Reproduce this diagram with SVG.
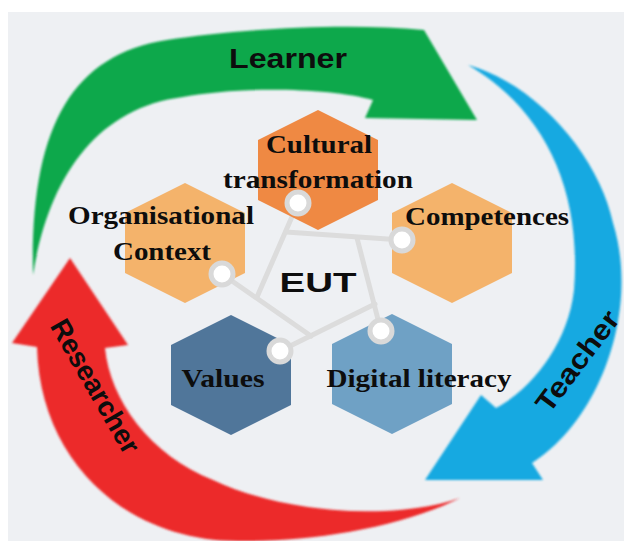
<svg xmlns="http://www.w3.org/2000/svg" width="624" height="541" viewBox="0 0 624 541">
  <defs>
    <filter id="soft" x="-5%" y="-5%" width="110%" height="110%">
      <feGaussianBlur stdDeviation="0.8"/>
    </filter>
  </defs>
  <style>
    .hexlbl { font-family: "Liberation Serif", "Times New Roman", serif; font-weight: bold; font-size: 26px; fill: #0d0d0d; text-anchor: middle; }
    .arrlbl { font-family: "Liberation Sans", Arial, sans-serif; font-weight: bold; font-size: 28px; fill: #0d0d0d; text-anchor: middle; }
    .arrow { filter: url(#soft); }
    .link { stroke: #dcdcdc; stroke-width: 5; stroke-linecap: round; fill: none; }
    .port { fill: #ffffff; stroke: #d9d9d9; stroke-width: 5; }
  </style>

  <rect x="0" y="0" width="624" height="541" fill="#ffffff"/>
  <rect x="8" y="12" width="616" height="529" fill="#eef0f3"/>

  <!-- cycle arrows -->
  <g id="arrow-learner">
    <path class="arrow" d="M33,275 C30,130 70,55 167,40 C230,30 340,22 424,30 L477,120 L365,118 L373,100 C330,88 240,86 183,97 C95,108 48,180 33,275 Z" fill="#10a84b"/>
    <text class="arrlbl" x="288" y="68" font-size="29" textLength="118" lengthAdjust="spacingAndGlyphs">Learner</text>
  </g>
  <g id="arrow-teacher">
    <path class="arrow" d="M468,65 C540,85 600,160 613,223 C640,310 600,420 532,463 L543,480 L425,480 L481,395 L496,408 C530,390 568,345 574,290 C582,190 545,110 468,65 Z" fill="#16a9e1"/>
    <text class="arrlbl" x="0" y="0" textLength="119" lengthAdjust="spacingAndGlyphs" transform="translate(585,367) rotate(-53)">Teacher</text>
  </g>
  <g id="arrow-researcher">
    <path class="arrow" d="M460,498 C400,528 310,542 240,541 C130,542 40,465 37,347 L12,343 L70,258 L128,345 L105,348 C110,400 150,455 213,480 C280,512 390,522 460,498 Z" fill="#ec2a2b"/>
    <text class="arrlbl" x="0" y="0" textLength="150" lengthAdjust="spacingAndGlyphs" transform="translate(87,391) rotate(60)">Researcher</text>
  </g>

  <!-- connectors -->
  <g id="connectors">
    <line class="link" x1="298" y1="203" x2="257" y2="297"/>
    <line class="link" x1="286" y1="232" x2="402" y2="240"/>
    <line class="link" x1="357" y1="238" x2="381" y2="331"/>
    <line class="link" x1="280" y1="351" x2="375" y2="304"/>
    <line class="link" x1="222" y1="274" x2="311" y2="336"/>
  </g>

  <!-- nodes -->
  <g id="node-cultural">
    <polygon points="318,110 378,140 378,200 318,230 258,200 258,140" fill="#ef8943"/>
  </g>
  <g id="node-organisational">
    <polygon points="185,183 245,213 245,273 185,303 125,273 125,213" fill="#f4b36b"/>
  </g>
  <g id="node-competences">
    <polygon points="452,183 512,213 512,273 452,303 392,273 392,213" fill="#f4b36b"/>
  </g>
  <g id="node-values">
    <polygon points="231,315 291,345 291,405 231,435 171,405 171,345" fill="#50769a"/>
  </g>
  <g id="node-digital">
    <polygon points="392,314 452,344 452,404 392,434 332,404 332,344" fill="#6fa1c5"/>
  </g>

  <g id="ports">
    <circle class="port" cx="298" cy="203" r="11"/>
    <circle class="port" cx="402" cy="240" r="11"/>
    <circle class="port" cx="222" cy="274" r="11"/>
    <circle class="port" cx="280" cy="351" r="11"/>
    <circle class="port" cx="381" cy="331" r="11"/>
  </g>

  <g id="labels">
    <text class="hexlbl" x="319" y="153" textLength="106" lengthAdjust="spacingAndGlyphs">Cultural</text>
    <text class="hexlbl" x="318" y="188" textLength="190" lengthAdjust="spacingAndGlyphs">transformation</text>
    <text class="hexlbl" x="161" y="224" textLength="186" lengthAdjust="spacingAndGlyphs">Organisational</text>
    <text class="hexlbl" x="162" y="260" textLength="98" lengthAdjust="spacingAndGlyphs">Context</text>
    <text class="hexlbl" x="487" y="225" textLength="164" lengthAdjust="spacingAndGlyphs">Competences</text>
    <text class="hexlbl" x="223" y="387" textLength="83" lengthAdjust="spacingAndGlyphs">Values</text>
    <text class="hexlbl" x="419" y="387" textLength="185" lengthAdjust="spacingAndGlyphs">Digital literacy</text>
  </g>

  <g id="node-eut">
    <text class="arrlbl" x="318" y="292" font-size="36" textLength="77" lengthAdjust="spacingAndGlyphs">EUT</text>
  </g>
</svg>
